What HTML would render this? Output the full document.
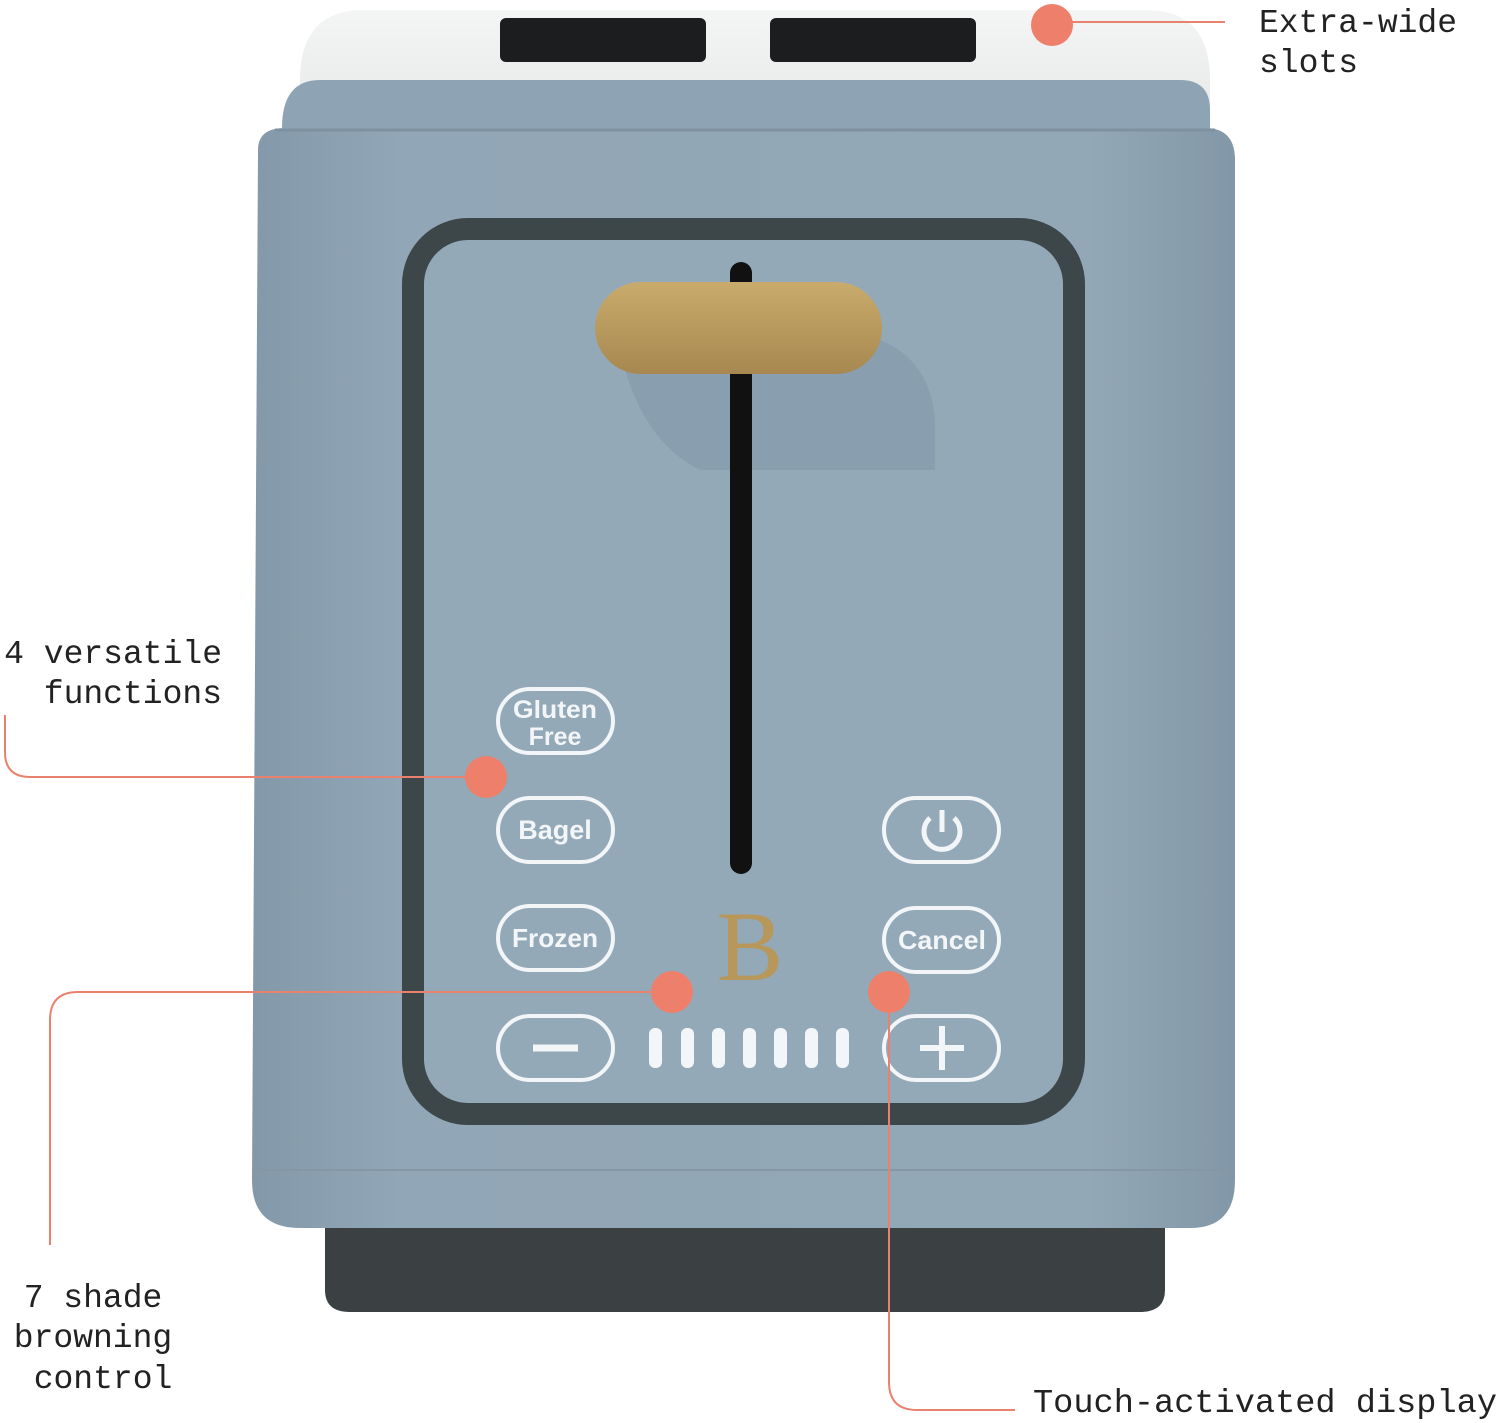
<!DOCTYPE html>
<html><head><meta charset="utf-8"><style>
html,body{margin:0;padding:0;background:#fff;}
svg{display:block;}
.m{font-family:"Liberation Mono",monospace;}
.s{font-family:"Liberation Sans",sans-serif;font-weight:bold;}
</style></head><body>
<svg width="1500" height="1423" viewBox="0 0 1500 1423" xmlns="http://www.w3.org/2000/svg">
<defs>
<linearGradient id="body" x1="0" x2="1" y1="0" y2="0">
<stop offset="0" stop-color="#8398a8"/><stop offset="0.15" stop-color="#91a6b6"/><stop offset="0.85" stop-color="#93a8b7"/><stop offset="1" stop-color="#8297a7"/>
</linearGradient>
<linearGradient id="gold" x1="0" x2="0" y1="0" y2="1">
<stop offset="0" stop-color="#c9ab6c"/><stop offset="1" stop-color="#a78850"/>
</linearGradient>
<linearGradient id="top" x1="0" x2="0" y1="0" y2="1">
<stop offset="0" stop-color="#f4f5f5"/><stop offset="0.7" stop-color="#e9eaea"/><stop offset="1" stop-color="#c9c3b5"/>
</linearGradient>
</defs>
<rect width="1500" height="1423" fill="#fff"/>
<path d="M325 1215 H1165 V1290 Q1165 1312 1140 1312 H350 Q325 1312 325 1290 Z" fill="#3b4043"/>
<path d="M300 80 Q300 12 360 10 H1150 Q1210 12 1210 80 V140 H300 Z" fill="url(#top)"/>
<rect x="500" y="18" width="206" height="44" rx="6" fill="#1c1d1f"/>
<rect x="770" y="18" width="206" height="44" rx="6" fill="#1c1d1f"/>
<path d="M258 150 Q258 128 285 128 H1205 Q1235 128 1235 160 V1180 Q1235 1228 1190 1228 H300 Q252 1228 252 1180 Z" fill="url(#body)"/>
<path d="M282 128 Q282 80 320 80 H1180 Q1210 80 1210 110 V130 H282 Z" fill="#8ea3b3"/>
<line x1="275" y1="130" x2="1215" y2="130" stroke="#7d91a0" stroke-width="3"/>
<line x1="258" y1="1170" x2="1232" y2="1170" stroke="#8497a6" stroke-width="2"/>
<rect x="413" y="229" width="661" height="885" rx="55" fill="#94a9b8" stroke="#3d4649" stroke-width="22"/>
<path d="M620 350 L880 340 Q930 360 935 420 L935 470 L700 470 Q640 440 620 350 Z" fill="#869bab" opacity="0.8"/>
<rect x="730" y="262" width="22" height="612" rx="11" fill="#111"/>
<rect x="595" y="282" width="287" height="92" rx="46" fill="url(#gold)"/>
<g fill="none" stroke="#f3f6f8" stroke-width="4">
<rect x="498" y="689" width="115" height="64" rx="32"/>
<rect x="498" y="798" width="115" height="64" rx="32"/>
<rect x="498" y="906" width="115" height="64" rx="32"/>
<rect x="884" y="798" width="115" height="64" rx="32"/>
<rect x="884" y="908" width="115" height="64" rx="32"/>
<rect x="498" y="1016" width="115" height="64" rx="32"/>
<rect x="884" y="1016" width="115" height="64" rx="32"/>
<line x1="533" y1="1048" x2="578" y2="1048" stroke-width="7"/>
<line x1="920" y1="1048" x2="964" y2="1048" stroke-width="6"/>
<line x1="942" y1="1026" x2="942" y2="1070" stroke-width="6"/>
<path d="M930 818 A18 18 0 1 0 954 818" stroke-width="5"/>
<line x1="942" y1="810" x2="942" y2="832" stroke-width="5"/>
</g>
<g fill="#f3f6f8" text-anchor="middle" class="s">
<text class="s" x="555" y="718" font-size="25" textLength="84" lengthAdjust="spacingAndGlyphs">Gluten</text>
<text class="s" x="555" y="745" font-size="25">Free</text>
<text class="s" x="555" y="839" font-size="27">Bagel</text>
<text class="s" x="555" y="947" font-size="26" textLength="86" lengthAdjust="spacingAndGlyphs">Frozen</text>
<text class="s" x="942" y="949" font-size="26" textLength="88" lengthAdjust="spacingAndGlyphs">Cancel</text>
</g>
<g fill="#f3f6f8">
<rect x="649" y="1028" width="13" height="40" rx="6"/>
<rect x="681" y="1028" width="13" height="40" rx="6"/>
<rect x="712" y="1028" width="13" height="40" rx="6"/>
<rect x="743" y="1028" width="13" height="40" rx="6"/>
<rect x="774" y="1028" width="13" height="40" rx="6"/>
<rect x="805" y="1028" width="13" height="40" rx="6"/>
<rect x="836" y="1028" width="13" height="40" rx="6"/>
</g>
<text x="750" y="980" font-size="100" fill="#b7975a" text-anchor="middle" style="font-family:'Liberation Serif',serif">B</text>
<g fill="none" stroke="#e8826f" stroke-width="2">
<line x1="1052" y1="22" x2="1225" y2="22"/>
<path d="M5 715 V752 Q5 777 30 777 H486"/>
<path d="M672 992 H78 Q50 992 50 1020 V1245"/>
<path d="M889 992 V1382 Q889 1410 917 1410 H1015"/>
</g>
<g fill="#ee7f6a">
<circle cx="1052" cy="25" r="21"/>
<circle cx="486" cy="777" r="21"/>
<circle cx="672" cy="992" r="21"/>
<circle cx="889" cy="992" r="21"/>
</g>
<g fill="#222" font-size="33" class="m">
<text x="1259" y="32">Extra-wide</text>
<text x="1259" y="72">slots</text>
<text x="222" y="663" text-anchor="end">4 versatile</text>
<text x="222" y="703" text-anchor="end">functions</text>
<text x="93" y="1307" text-anchor="middle">7 shade</text>
<text x="93" y="1347" text-anchor="middle">browning</text>
<text x="103" y="1388" text-anchor="middle">control</text>
<text x="1033" y="1412" textLength="464" lengthAdjust="spacingAndGlyphs">Touch-activated display</text>
</g>
</svg>
</body></html>
